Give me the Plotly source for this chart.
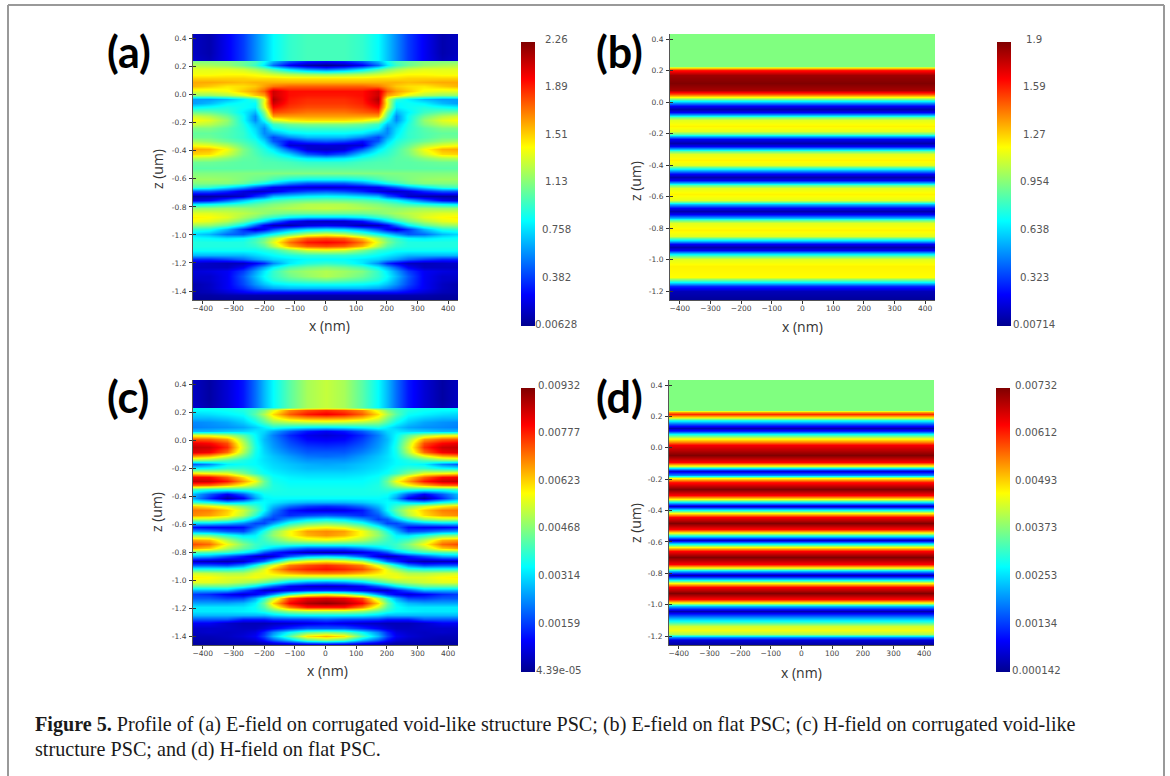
import plotly.graph_objects as go

# ---------- values ----------
x_half_nm = [0, 60, 120, 170, 200, 230, 270, 320, 380, 432]

# percent of the colour range, one column per x_half_nm (mirror-symmetric about x = 0)
z_a_um = [0.433, 0.30, 0.246, 0.240, 0.21, 0.18, 0.15, 0.12, 0.09, 0.06, 0.03, 0.0, -0.03, -0.06, -0.09, -0.12,
          -0.15, -0.18, -0.21, -0.24, -0.27, -0.30, -0.33, -0.36, -0.39, -0.42, -0.45, -0.48, -0.52, -0.56,
          -0.60, -0.63, -0.66, -0.69, -0.72, -0.75, -0.78, -0.81, -0.84, -0.87, -0.90, -0.93, -0.96, -0.99,
          -1.02, -1.05, -1.08, -1.11, -1.14, -1.17, -1.20, -1.23, -1.26, -1.29, -1.32, -1.35, -1.38, -1.41,
          -1.43, -1.464]
E_corrugated_pct = [
    [44, 44, 42, 37, 31, 25, 17, 10, 3, 5],
    [44, 44, 42, 37, 31, 25, 17, 10, 3, 5],
    [44, 44, 42, 37, 31, 25, 17, 10, 4, 6],
    [12, 14, 20, 30, 38, 44, 47, 50, 50, 50],
    [0, 3, 10, 22, 35, 43, 48, 52, 54, 55],
    [22, 26, 34, 44, 50, 54, 58, 60, 60, 60],
    [52, 53, 55, 58, 60, 62, 63, 63, 62, 62],
    [65, 65, 65, 66, 66, 66, 67, 67, 67, 67],
    [70, 70, 70, 70, 70, 70, 69, 70, 71, 71],
    [78, 78, 78, 76, 72, 68, 66, 65, 68, 70],
    [86, 86, 86, 92, 78, 72, 68, 62, 60, 60],
    [85, 85, 86, 92, 72, 68, 60, 55, 52, 52],
    [83, 83, 85, 95, 60, 42, 36, 30, 27, 27],
    [82, 82, 84, 92, 62, 37, 38, 36, 30, 27],
    [80, 80, 82, 87, 60, 36, 38, 40, 38, 36],
    [76, 76, 78, 80, 50, 30, 36, 43, 47, 48],
    [72, 72, 72, 72, 45, 25, 38, 48, 55, 58],
    [66, 66, 64, 58, 38, 25, 38, 52, 60, 63],
    [50, 50, 48, 43, 30, 30, 40, 50, 56, 58],
    [43, 43, 42, 38, 25, 33, 41, 46, 50, 50],
    [37, 37, 35, 28, 25, 35, 42, 45, 47, 47],
    [30, 30, 25, 18, 28, 37, 42, 45, 48, 48],
    [20, 18, 12, 20, 33, 40, 44, 48, 52, 54],
    [7, 6, 7, 28, 37, 42, 47, 55, 60, 62],
    [5, 7, 20, 35, 40, 44, 50, 62, 70, 71],
    [15, 20, 33, 40, 42, 45, 49, 58, 66, 67],
    [33, 35, 40, 43, 44, 46, 47, 51, 55, 56],
    [42, 42, 44, 45, 45, 46, 46, 47, 48, 48],
    [46, 46, 46, 46, 46, 46, 46, 46, 46, 46],
    [50, 50, 50, 50, 50, 50, 50, 50, 50, 50],
    [38, 38, 40, 44, 47, 48, 50, 52, 53, 53],
    [20, 20, 25, 33, 38, 42, 47, 50, 50, 50],
    [6, 7, 8, 10, 15, 20, 28, 35, 42, 44],
    [20, 18, 14, 8, 6, 5, 8, 15, 20, 20],
    [37, 36, 33, 30, 20, 15, 6, 3, 2, 2],
    [48, 47, 46, 43, 40, 37, 30, 20, 10, 7],
    [55, 55, 52, 50, 48, 46, 43, 40, 37, 35],
    [57, 56, 55, 53, 52, 51, 52, 53, 52, 52],
    [48, 48, 48, 50, 52, 54, 56, 58, 60, 60],
    [33, 33, 36, 42, 45, 50, 54, 60, 63, 64],
    [5, 6, 12, 24, 33, 40, 48, 55, 60, 62],
    [10, 8, 3, 4, 10, 22, 36, 46, 52, 53],
    [35, 33, 27, 18, 10, 6, 16, 30, 40, 42],
    [60, 56, 47, 38, 33, 27, 20, 22, 30, 33],
    [80, 78, 68, 55, 47, 42, 37, 35, 37, 38],
    [87, 85, 76, 60, 50, 44, 40, 40, 40, 40],
    [80, 78, 70, 55, 46, 42, 40, 40, 40, 40],
    [60, 58, 50, 42, 40, 38, 38, 38, 38, 38],
    [42, 42, 40, 37, 35, 33, 30, 30, 30, 30],
    [37, 37, 35, 33, 30, 27, 22, 18, 15, 15],
    [42, 40, 35, 25, 15, 10, 5, 4, 5, 6],
    [50, 48, 44, 36, 28, 20, 10, 5, 5, 5],
    [55, 53, 50, 42, 35, 27, 17, 10, 8, 7],
    [55, 52, 48, 42, 37, 30, 20, 10, 6, 6],
    [48, 46, 44, 40, 35, 28, 19, 10, 6, 5],
    [38, 38, 37, 35, 31, 26, 18, 10, 5, 3],
    [30, 30, 30, 28, 25, 21, 15, 10, 5, 3],
    [12, 12, 12, 12, 12, 12, 10, 7, 4, 3],
    [3, 3, 3, 3, 3, 3, 3, 3, 2, 2],
    [1, 1, 1, 1, 1, 1, 1, 1, 1, 1],
]

z_c_um = [0.433, 0.30, 0.24, 0.235, 0.22, 0.19, 0.16, 0.13, 0.10, 0.07, 0.04, 0.01, -0.02, -0.05, -0.08, -0.11,
          -0.14, -0.17, -0.20, -0.23, -0.26, -0.29, -0.32, -0.35, -0.38, -0.41, -0.44, -0.47, -0.50, -0.53,
          -0.56, -0.59, -0.62, -0.65, -0.68, -0.71, -0.74, -0.77, -0.80, -0.83, -0.86, -0.89, -0.92, -0.95,
          -0.98, -1.01, -1.04, -1.07, -1.10, -1.13, -1.16, -1.19, -1.22, -1.25, -1.28, -1.31, -1.34, -1.37,
          -1.40, -1.43, -1.45, -1.464]
H_corrugated_pct = [
    [57, 54, 46, 37, 30, 22, 13, 7, 2, 5],
    [57, 54, 46, 37, 30, 22, 13, 7, 2, 5],
    [57, 54, 46, 37, 30, 22, 13, 7, 3, 6],
    [60, 58, 52, 45, 42, 40, 38, 38, 38, 38],
    [83, 80, 74, 60, 50, 44, 40, 38, 37, 37],
    [88, 85, 78, 66, 55, 46, 38, 36, 34, 33],
    [73, 72, 68, 60, 50, 42, 35, 32, 30, 30],
    [58, 57, 55, 52, 45, 38, 32, 28, 26, 25],
    [35, 36, 38, 40, 36, 32, 28, 26, 25, 24],
    [10, 13, 20, 28, 33, 35, 33, 32, 30, 30],
    [7, 9, 15, 24, 31, 37, 46, 55, 60, 61],
    [10, 11, 17, 25, 30, 38, 52, 72, 78, 79],
    [13, 14, 19, 26, 31, 39, 56, 80, 87, 89],
    [16, 17, 21, 27, 32, 40, 58, 83, 92, 93],
    [20, 20, 24, 29, 33, 39, 55, 77, 88, 90],
    [22, 23, 27, 31, 34, 38, 48, 60, 70, 73],
    [26, 26, 29, 32, 34, 37, 40, 45, 50, 52],
    [28, 29, 31, 33, 35, 37, 38, 36, 25, 20],
    [30, 30, 32, 34, 36, 39, 42, 42, 38, 36],
    [33, 33, 34, 36, 38, 42, 50, 60, 62, 65],
    [35, 35, 36, 38, 44, 55, 66, 78, 87, 88],
    [37, 37, 37, 39, 48, 62, 72, 85, 92, 93],
    [38, 38, 38, 40, 46, 54, 62, 70, 77, 78],
    [39, 39, 39, 40, 42, 43, 43, 42, 42, 45],
    [39, 39, 39, 39, 38, 32, 20, 10, 20, 30],
    [37, 37, 37, 37, 36, 27, 10, 2, 15, 28],
    [30, 30, 32, 35, 37, 37, 33, 30, 38, 42],
    [15, 17, 22, 30, 37, 43, 50, 58, 64, 68],
    [8, 9, 13, 25, 37, 47, 58, 68, 75, 76],
    [20, 18, 15, 20, 30, 42, 55, 66, 72, 74],
    [37, 34, 27, 17, 20, 30, 42, 52, 56, 56],
    [50, 47, 40, 27, 18, 18, 25, 30, 33, 33],
    [63, 60, 52, 40, 30, 22, 12, 10, 10, 12],
    [74, 72, 62, 50, 40, 30, 18, 20, 25, 27],
    [73, 70, 62, 52, 44, 36, 34, 40, 48, 50],
    [60, 58, 54, 47, 43, 40, 44, 55, 70, 72],
    [42, 42, 43, 42, 41, 43, 50, 62, 77, 80],
    [20, 20, 25, 32, 37, 42, 47, 55, 68, 72],
    [3, 4, 8, 14, 20, 30, 37, 43, 45, 46],
    [33, 30, 20, 7, 4, 6, 13, 20, 28, 30],
    [65, 62, 55, 35, 22, 15, 6, 3, 4, 5],
    [83, 80, 75, 60, 50, 38, 25, 18, 20, 20],
    [86, 84, 80, 70, 60, 52, 43, 40, 40, 40],
    [75, 74, 70, 65, 62, 60, 55, 55, 57, 58],
    [55, 55, 56, 58, 60, 62, 60, 60, 63, 64],
    [25, 27, 33, 43, 48, 52, 55, 58, 60, 60],
    [5, 6, 10, 20, 27, 35, 42, 47, 47, 47],
    [15, 14, 10, 5, 6, 12, 20, 30, 30, 30],
    [60, 55, 43, 25, 15, 10, 7, 10, 15, 17],
    [90, 88, 80, 55, 40, 28, 18, 17, 20, 20],
    [98, 95, 87, 67, 48, 36, 30, 28, 28, 28],
    [85, 85, 75, 58, 45, 38, 35, 35, 35, 35],
    [55, 55, 52, 45, 40, 37, 36, 35, 35, 35],
    [37, 37, 36, 33, 30, 30, 30, 30, 30, 30],
    [20, 18, 18, 17, 14, 14, 14, 20, 20, 20],
    [10, 8, 6, 5, 4, 4, 4, 6, 10, 10],
    [20, 20, 15, 10, 7, 5, 5, 6, 6, 6],
    [50, 47, 37, 25, 15, 8, 6, 5, 6, 5],
    [70, 65, 45, 30, 18, 10, 7, 5, 4, 4],
    [50, 45, 30, 20, 12, 7, 5, 4, 3, 3],
    [20, 18, 12, 8, 5, 3, 3, 3, 2, 2],
    [3, 3, 3, 3, 2, 2, 2, 2, 2, 2],
]

# flat structures: the field does not vary with x
z_b_um = [0.433, 0.228, 0.218, 0.204, 0.172, 0.123, 0.076, 0.05, 0.03, 0.013, -0.004, -0.022, -0.042, -0.062, -0.083,
          -0.098, -0.115, -0.15, -0.185, -0.20, -0.215, -0.237, -0.257, -0.277, -0.297, -0.312, -0.33, -0.365, -0.40,
          -0.415, -0.43, -0.454, -0.474, -0.494, -0.514, -0.529, -0.547, -0.585, -0.62, -0.635, -0.65, -0.674, -0.694,
          -0.714, -0.734, -0.749, -0.767, -0.81, -0.85, -0.865, -0.88, -0.901, -0.921, -0.941, -0.961, -0.976, -0.995,
          -1.04, -1.11, -1.125, -1.144, -1.166, -1.197, -1.257]
E_flat_pct = [50, 50, 68, 85, 97, 100, 96, 80, 63, 42, 25, 10, 3, 10, 30,
              47, 60, 64, 60, 47, 30, 10, 3, 10, 30,
              47, 60, 64, 60, 47, 30, 10, 3, 10, 30,
              47, 60, 64, 60, 47, 30, 10, 3, 10, 30,
              47, 60, 64, 60, 47, 30, 10, 3, 10, 30,
              47, 60, 64, 63, 52, 37, 15, 4, 1]

z_d_um = [0.433, 0.244, 0.231, 0.217, 0.195, 0.174, 0.153, 0.127, 0.104, 0.085, 0.062, 0.04, 0.015, -0.045, -0.091,
          -0.113, -0.13, -0.151, -0.172, -0.193, -0.219, -0.261, -0.304, -0.325, -0.346, -0.369, -0.393, -0.414,
          -0.442, -0.478, -0.516, -0.544, -0.563, -0.586, -0.609, -0.633, -0.66, -0.699, -0.743, -0.766, -0.788,
          -0.813, -0.837, -0.86, -0.888, -0.924, -0.962, -0.987, -1.008, -1.042, -1.079, -1.11, -1.136, -1.164,
          -1.185, -1.206, -1.227, -1.259]
H_flat_pct = [50, 50, 72, 83, 66, 40, 20, 3, 15, 38, 60, 75, 88, 100, 87,
              60, 35, 7, 25, 63, 85, 100, 87, 63, 35, 5, 30, 63,
              87, 100, 87, 60, 35, 5, 30, 63, 87, 100, 87, 60, 30,
              3, 30, 63, 87, 100, 87, 60, 30, 3, 25, 42, 58, 62,
              55, 25, 7, 1]

cbar_a = ["2.26", "1.89", "1.51", "1.13", "0.758", "0.382", "0.00628"]
cbar_b = ["1.9", "1.59", "1.27", "0.954", "0.638", "0.323", "0.00714"]
cbar_c = ["0.00932", "0.00777", "0.00623", "0.00468", "0.00314", "0.00159", "4.39e-05"]
cbar_d = ["0.00732", "0.00612", "0.00493", "0.00373", "0.00253", "0.00134", "0.000142"]

x_ticks = [-400, -300, -200, -100, 0, 100, 200, 300, 400]
z_ticks_long = [0.4, 0.2, 0.0, -0.2, -0.4, -0.6, -0.8, -1.0, -1.2, -1.4]
z_ticks_short = [0.4, 0.2, 0.0, -0.2, -0.4, -0.6, -0.8, -1.0, -1.2]

jet = [[0.0, "#00008f"], [0.11, "#0000ff"], [0.37, "#00ffff"], [0.50, "#80ff80"],
       [0.63, "#ffff00"], [0.87, "#ff0000"], [1.0, "#800000"]]

W, H = 1170, 776
px = lambda v: v / W
py = lambda v: 1 - v / H

panels = [
    dict(name="a", box=(193, 458, 34, 300), cb=(521, 42), ylim=(-1.464, 0.433), ticks=z_ticks_long,
         vmin=0.00628, vmax=2.26, labels=cbar_a, lab_x=556, lab_y0=39, letter=(129, 52),
         xt=(329, 325), zt=(157, 169)),
    dict(name="b", box=(670, 935, 34, 300), cb=(997, 42), ylim=(-1.257, 0.432), ticks=z_ticks_short,
         vmin=0.00714, vmax=1.9, labels=cbar_b, lab_x=1034, lab_y0=39, letter=(619, 52),
         xt=(802, 326), zt=(635, 181)),
    dict(name="c", box=(193, 458, 380, 645), cb=(521, 388), ylim=(-1.464, 0.433), ticks=z_ticks_long,
         vmin=4.39e-05, vmax=0.00932, labels=cbar_c, lab_x=559, lab_y0=385, letter=(128, 397),
         xt=(327, 670), zt=(156, 512)),
    dict(name="d", box=(669, 934, 380, 645), cb=(996, 388), ylim=(-1.257, 0.432), ticks=z_ticks_short,
         vmin=0.000142, vmax=0.00732, labels=cbar_d, lab_x=1036, lab_y0=385, letter=(619, 397),
         xt=(801, 672), zt=(635, 523)),
]

x_full = [-v for v in x_half_nm[:0:-1]] + x_half_nm


def mirror(rows):
    return [r[:0:-1] + r for r in rows]


def flat(values):
    return [[v, v] for v in values]


grids = {
    "a": (x_full, z_a_um, mirror(E_corrugated_pct)),
    "b": ([-432, 432], z_b_um, flat(E_flat_pct)),
    "c": (x_full, z_c_um, mirror(H_corrugated_pct)),
    "d": ([-432, 432], z_d_um, flat(H_flat_pct)),
}

fig = go.Figure()
annotations = []
layout = {}
for i, p in enumerate(panels, start=1):
    xs, zs, rows = grids[p["name"]]
    span = p["vmax"] - p["vmin"]
    values = [[p["vmin"] + c / 100 * span for c in r] for r in rows]
    suffix = "" if i == 1 else str(i)
    fig.add_trace(go.Heatmap(
        x=xs, y=zs[::-1], z=values[::-1], zsmooth="best", colorscale=jet,
        zmin=p["vmin"], zmax=p["vmax"], xaxis=f"x{suffix}", yaxis=f"y{suffix}",
        hoverinfo="skip",
        colorbar=dict(x=px(p["cb"][0]), xanchor="left", y=py(p["cb"][1]), yanchor="top",
                      lenmode="pixels", len=284, thicknessmode="pixels", thickness=14,
                      xpad=0, ypad=0, outlinewidth=0, ticks="", showticklabels=False),
    ))
    x0, x1, y0, y1 = p["box"]
    layout[f"xaxis{suffix}"] = dict(
        domain=[px(x0), px(x1)], range=[-432, 432], anchor=f"y{suffix}", tickmode="array",
        tickvals=x_ticks, ticks="outside", ticklen=3, tickwidth=1, tickcolor="#333",
        showline=True, linecolor="#555", linewidth=1, showgrid=False, zeroline=False,
        tickfont=dict(family="DejaVu Sans", size=7.5, color="#444"), ticklabelstandoff=-2,
    )
    layout[f"yaxis{suffix}"] = dict(
        domain=[py(y1), py(y0)], range=list(p["ylim"]), anchor=f"x{suffix}", tickmode="array",
        tickvals=p["ticks"], ticktext=[f"{t:.1f}" for t in p["ticks"]], ticks="outside", ticklen=3,
        tickwidth=1, tickcolor="#333",
        minor=dict(tickmode="array", tickvals=p["ticks"], ticks="inside", ticklen=3, tickwidth=1, tickcolor="#333"),
        showline=True, linecolor="#555", linewidth=1, showgrid=False, zeroline=False,
        tickfont=dict(family="DejaVu Sans", size=7.5, color="#444"), ticklabelstandoff=1,
    )
    for k, label in enumerate(p["labels"]):
        annotations.append(dict(text=label, xref="paper", yref="paper", x=px(p["lab_x"]),
                                y=py(p["lab_y0"] + k * 47.6), xanchor="center", yanchor="middle",
                                showarrow=False, font=dict(family="DejaVu Sans", size=10.2, color="#555")))
    annotations.append(dict(text=f"<b>({p['name']})</b>", xref="paper", yref="paper", x=px(p["letter"][0]),
                            y=py(p["letter"][1]), xanchor="center", yanchor="middle", showarrow=False,
                            font=dict(family="Lato", size=43, color="#000")))
    annotations.append(dict(text="x (nm)", xref="paper", yref="paper", x=px(p["xt"][0]), y=py(p["xt"][1]),
                            xanchor="center", yanchor="middle", showarrow=False,
                            font=dict(family="Open Sans", size=14, color="#333")))
    annotations.append(dict(text="z (um)", xref="paper", yref="paper", x=px(p["zt"][0]), y=py(p["zt"][1]),
                            xanchor="center", yanchor="middle", showarrow=False, textangle=-90,
                            font=dict(family="Open Sans", size=14, color="#333")))

caption = [
    (724, "<b>Figure 5.</b> Profile of (a) E-field on corrugated void-like structure PSC; (b) E-field on flat PSC; "
          "(c) H-field on corrugated void-like"),
    (749, "structure PSC; and (d) H-field on flat PSC."),
]
for y, text in caption:
    annotations.append(dict(text=text, xref="paper", yref="paper", x=px(33), y=py(y), xanchor="left",
                            yanchor="middle", showarrow=False,
                            font=dict(family="Liberation Serif", size=20.15, color="#1a1a1a")))

frame = [(8, 776, 8, 5), (8, 5, 1164, 5), (1164, 5, 1164, 776)]
shapes = [dict(type="line", xref="paper", yref="paper", x0=px(a), y0=py(b), x1=px(c), y1=py(d),
               line=dict(color="#999999", width=2)) for a, b, c, d in frame]

fig.update_layout(width=W, height=H, autosize=False, paper_bgcolor="white", plot_bgcolor="white",
                  margin=dict(l=0, r=0, t=0, b=0, pad=0, autoexpand=False), showlegend=False,
                  annotations=annotations, shapes=shapes, **layout)
fig.write_html("out.html", config={"displayModeBar": False},
               post_script="document.body.style.margin='0';document.documentElement.style.overflow='hidden';")
